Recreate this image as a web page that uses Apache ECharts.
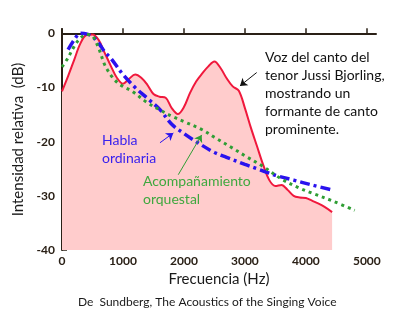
<!DOCTYPE html>
<html>
<head>
<meta charset="utf-8">
<script src="https://cdn.jsdelivr.net/npm/echarts@6/dist/echarts.min.js"></script>
<style>
html,body{margin:0;padding:0;background:#fff;}
#chart{width:398px;height:327px;}
</style>
</head>
<body>
<div id="chart"></div>
<script>
// Singer (Jussi Bjorling) spectrum
const singerFreq = [0,100,200,300,400,500,600,700,800,900,1000,1100,1200,1300,1400,1500,1600,1700,1800,1900,2000,2100,2200,2300,2400,2500,2600,2700,2800,2900,3000,3100,3200,3300,3400,3500,3600,3700,3800,3900,4000,4100,4200,4300,4430];
const singerDb   = [-10.7,-7.9,-4.9,-1.9,-0.3,-0.2,-1.2,-3.6,-6.0,-8.2,-9.3,-8.4,-7.6,-8.2,-9.5,-11.2,-11.7,-11.9,-13.8,-14.9,-13.6,-11.0,-8.9,-7.4,-6.1,-5.2,-6.4,-8.3,-9.8,-10.6,-13.8,-17.5,-20.9,-24.3,-27.1,-28.2,-28.0,-28.9,-30.0,-30.3,-30.4,-30.9,-31.4,-32.0,-33.0];
// Ordinary speech
const speechFreq = [100,200,300,400,500,600,700,800,1000,1200,1400,1600,1800,2000,2200,2500,2700,3000,3200,3500,3800,4100,4430];
const speechDb   = [-3.0,-1.2,0.0,-0.1,-0.6,-1.8,-3.4,-4.6,-7.6,-10.0,-12.0,-14.0,-16.8,-18.5,-20.0,-22.0,-22.9,-24.2,-25.0,-26.2,-27.1,-28.0,-28.9];
// Orchestral accompaniment
const orchFreq = [0,100,200,300,400,500,600,700,800,900,1000,1150,1400,1600,1800,2000,2300,2500,2800,3000,3300,3600,3900,4100,4450,4800];
const orchDb   = [-6.2,-4.5,-2.4,-0.9,-0.2,-0.5,-2.7,-5.8,-7.7,-9.0,-9.8,-10.7,-12.8,-14.1,-15.3,-16.3,-17.8,-19.2,-21.2,-22.6,-24.6,-26.9,-28.6,-29.5,-31.0,-32.7];
// Axis ticks
const xTicks = [0,1000,2000,3000,4000,5000];
const yTicks = [-40,-30,-20,-10,0];

const pairs = (xs, ys) => xs.map((x, i) => [x, ys[i]]);
const FONT = 'Lato';
const axisColor = '#2a2016';

const chart = echarts.init(document.getElementById('chart'), null, {renderer: 'canvas'});
chart.setOption({
  animation: false,
  backgroundColor: '#ffffff',
  grid: {left: 62, right: 22, top: 29, bottom: 77},
  xAxis: {
    type: 'value', min: 0, max: 5150,
    name: 'Frecuencia (Hz)', nameLocation: 'middle', nameGap: 22,
    nameTextStyle: {fontFamily: FONT, fontSize: 15, color: '#1a1a1a'},
    axisLine: {show: true, lineStyle: {color: axisColor, width: 2}},
    axisTick: {show: true, inside: true, length: 5, customValues: xTicks, lineStyle: {color: axisColor, width: 1.5}},
    axisLabel: {customValues: xTicks, formatter: v => String(v), fontFamily: FONT, fontSize: 12, fontWeight: 'bold', color: '#2a2016', margin: 5},
    splitLine: {show: false}
  },
  yAxis: {
    type: 'value', min: -40, max: 0.8,
    name: 'Intensidad relativa  (dB)', nameLocation: 'middle', nameGap: 36, nameRotate: 90,
    nameTextStyle: {fontFamily: FONT, fontSize: 15, color: '#1a1a1a'},
    axisLine: {show: true, lineStyle: {color: axisColor, width: 2}},
    axisTick: {show: true, inside: true, length: 5, customValues: yTicks, lineStyle: {color: axisColor, width: 1.5}},
    axisLabel: {customValues: yTicks, formatter: v => String(v), fontFamily: FONT, fontSize: 12, fontWeight: 'bold', color: '#2a2016', margin: 7},
    splitLine: {show: false}
  },
  series: [
    {
      type: 'line', name: 'Voz del canto', data: pairs(singerFreq, singerDb),
      smooth: 0.35, showSymbol: false, z: 3,
      lineStyle: {color: '#f0183c', width: 2},
      areaStyle: {color: '#ffcccc', opacity: 1, origin: 'start'},
      markLine: {
        silent: true, symbol: ['none', 'arrow'], symbolSize: 7,
        lineStyle: {color: '#111111', width: 1, type: 'solid'}, label: {show: false},
        data: [[{coord: [3193, -7.24]}, {coord: [2919, -9.7]}]]
      }
    },
    {
      type: 'line', name: 'Habla ordinaria', data: pairs(speechFreq, speechDb),
      smooth: 0.35, showSymbol: false, z: 4,
      lineStyle: {color: '#2a12ee', width: 3.5, type: [10, 4, 3, 4]},
      markLine: {
        silent: true, symbol: ['none', 'arrow'], symbolSize: 7,
        lineStyle: {color: '#2a12ee', width: 1, type: 'solid'}, label: {show: false},
        data: [[{coord: [1607, -20.2]}, {coord: [1826, -18.4]}]]
      }
    },
    {
      type: 'line', name: 'Acompañamiento orquestal', data: pairs(orchFreq, orchDb),
      smooth: 0.35, showSymbol: false, z: 5,
      lineStyle: {color: '#2f9e34', width: 3, type: [3, 4]},
      markLine: {
        silent: true, symbol: ['none', 'arrow'], symbolSize: 7,
        lineStyle: {color: '#2f9e34', width: 1, type: 'solid'}, label: {show: false},
        data: [[{coord: [1907, -26.1]}, {coord: [2291, -18.75]}]]
      }
    }
  ],
  graphic: [
    {type: 'text', left: 265, top: 48, z: 10, style: {text: 'Voz del canto del\ntenor Jussi Bjorling,\nmostrando un\nformante de canto\nprominente.', fontFamily: FONT, fontSize: 14, lineHeight: 18, fill: '#111111'}},
    {type: 'text', left: 102, top: 131, z: 10, style: {text: 'Habla\nordinaria', fontFamily: FONT, fontSize: 14, lineHeight: 18, fill: '#3a22ee'}},
    {type: 'text', left: 143, top: 172, z: 10, style: {text: 'Acompañamiento\norquestal', fontFamily: FONT, fontSize: 14, lineHeight: 18, fill: '#3fa83f'}},
    {type: 'text', left: 78, top: 296, z: 10, style: {text: 'De  Sundberg, The Acoustics of the Singing Voice', fontFamily: FONT, fontSize: 12, fill: '#1a1a1a'}}
  ]
});
</script>
</body>
</html>
